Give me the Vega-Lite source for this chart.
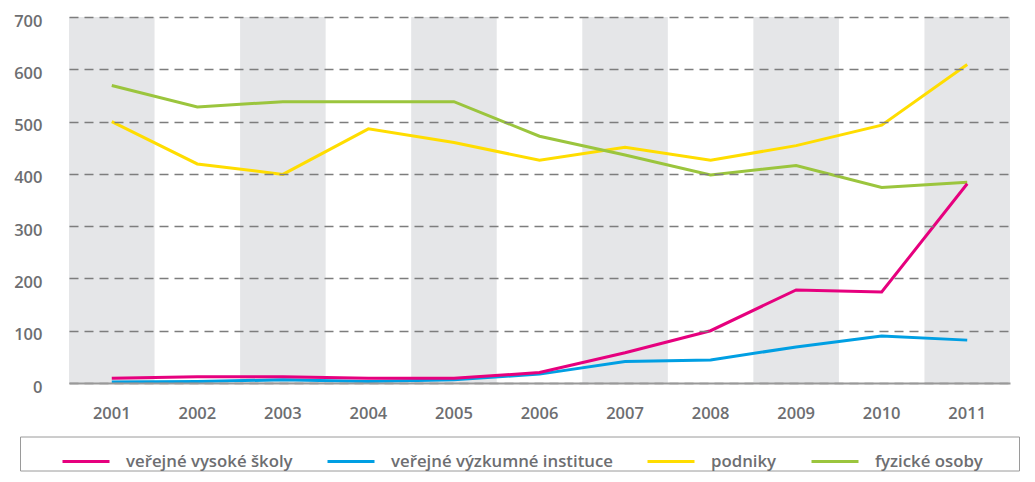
{
  "$schema": "https://vega.github.io/schema/vega-lite/v6.json",
  "autosize": {"type": "none"},
  "width": 941,
  "height": 366,
  "padding": {"left": 69, "top": 17, "right": 25, "bottom": 99},
  "background": "white",
  "config": {
    "view": {"stroke": null},
    "font": "Open Sans",
    "axis": {"labelFont": "Open Sans", "labelFontWeight": 600, "labelColor": "#6d6e71", "labelFontSize": 16.5, "ticks": false, "title": null},
    "legend": {"labelFont": "Open Sans"}
  },
  "datasets": {
    "bands": [
      {"year": "2001"}, {"year": "2003"}, {"year": "2005"}, {"year": "2007"}, {"year": "2009"}, {"year": "2011"}
    ],
    "series": [
      {"year": "2001", "series": "veřejné výzkumné instituce", "value": 2},
      {"year": "2002", "series": "veřejné výzkumné instituce", "value": 3},
      {"year": "2003", "series": "veřejné výzkumné instituce", "value": 6},
      {"year": "2004", "series": "veřejné výzkumné instituce", "value": 3},
      {"year": "2005", "series": "veřejné výzkumné instituce", "value": 6},
      {"year": "2006", "series": "veřejné výzkumné instituce", "value": 17},
      {"year": "2007", "series": "veřejné výzkumné instituce", "value": 41},
      {"year": "2008", "series": "veřejné výzkumné instituce", "value": 44},
      {"year": "2009", "series": "veřejné výzkumné instituce", "value": 69},
      {"year": "2010", "series": "veřejné výzkumné instituce", "value": 90},
      {"year": "2011", "series": "veřejné výzkumné instituce", "value": 82},
      {"year": "2001", "series": "podniky", "value": 500},
      {"year": "2002", "series": "podniky", "value": 419},
      {"year": "2003", "series": "podniky", "value": 399},
      {"year": "2004", "series": "podniky", "value": 486},
      {"year": "2005", "series": "podniky", "value": 460},
      {"year": "2006", "series": "podniky", "value": 426},
      {"year": "2007", "series": "podniky", "value": 451},
      {"year": "2008", "series": "podniky", "value": 426},
      {"year": "2009", "series": "podniky", "value": 454},
      {"year": "2010", "series": "podniky", "value": 493},
      {"year": "2011", "series": "podniky", "value": 609},
      {"year": "2001", "series": "fyzické osoby", "value": 569},
      {"year": "2002", "series": "fyzické osoby", "value": 528},
      {"year": "2003", "series": "fyzické osoby", "value": 538},
      {"year": "2004", "series": "fyzické osoby", "value": 538},
      {"year": "2005", "series": "fyzické osoby", "value": 538},
      {"year": "2006", "series": "fyzické osoby", "value": 472},
      {"year": "2007", "series": "fyzické osoby", "value": 436},
      {"year": "2008", "series": "fyzické osoby", "value": 398},
      {"year": "2009", "series": "fyzické osoby", "value": 416},
      {"year": "2010", "series": "fyzické osoby", "value": 374},
      {"year": "2011", "series": "fyzické osoby", "value": 384},
      {"year": "2001", "series": "veřejné vysoké školy", "value": 9},
      {"year": "2002", "series": "veřejné vysoké školy", "value": 12},
      {"year": "2003", "series": "veřejné vysoké školy", "value": 12},
      {"year": "2004", "series": "veřejné vysoké školy", "value": 9},
      {"year": "2005", "series": "veřejné vysoké školy", "value": 9},
      {"year": "2006", "series": "veřejné vysoké školy", "value": 20},
      {"year": "2007", "series": "veřejné vysoké školy", "value": 58},
      {"year": "2008", "series": "veřejné vysoké školy", "value": 100},
      {"year": "2009", "series": "veřejné vysoké školy", "value": 178},
      {"year": "2010", "series": "veřejné vysoké školy", "value": 174},
      {"year": "2011", "series": "veřejné vysoké školy", "value": 381}
    ]
  },
  "layer": [
    {
      "data": {"name": "bands"},
      "mark": {"type": "rect", "color": "#e5e6e8"},
      "encoding": {
        "x": {"field": "year", "type": "ordinal", "scale": {"type": "band", "domain": ["2001","2002","2003","2004","2005","2006","2007","2008","2009","2010","2011"], "paddingInner": 0, "paddingOuter": 0},
              "axis": {"labelAngle": 0, "labelPadding": 22, "domain": true, "domainColor": "#999999", "domainWidth": 2, "grid": false, "zindex": 1}}
      }
    },
    {
      "data": {"name": "series"},
      "mark": {"type": "line", "strokeWidth": 3},
      "encoding": {
        "x": {"field": "year", "type": "ordinal"},
        "y": {"field": "value", "type": "quantitative", "scale": {"domain": [0, 700], "nice": false},
              "axis": {"values": [0,100,200,300,400,500,600,700], "domain": false, "grid": true, "gridColor": "#7d7d7d", "gridWidth": 1.5, "gridDash": [9, 6], "labelPadding": 27, "labelOffset": 4, "zindex": 1}},
        "color": {
          "field": "series", "type": "nominal",
          "scale": {"domain": ["veřejné vysoké školy", "veřejné výzkumné instituce", "podniky", "fyzické osoby"], "range": ["#e6007e", "#009fe3", "#ffdd00", "#9bc53d"]},
          "legend": {
            "title": " ",
            "titleOrient": "left",
            "titlePadding": 41,
            "orient": "none",
            "legendX": -49,
            "legendY": 419.5,
            "direction": "horizontal",
            "columns": 4,
            "columnPadding": 28,
            "padding": 0,
            "strokeColor": "#9a9a9a",
            "symbolType": "stroke",
            "symbolSize": 2209,
            "symbolStrokeWidth": 3,
            "labelOffset": 15,
            "labelFontSize": 16.8,
            "labelFontWeight": 600,
            "labelColor": "#6d6e71",
            "labelLimit": 400,
            "labelExpr": "datum.label == 'fyzické osoby' ? datum.label + '\u2800\u2800\u2800' : datum.label"
          }
        }
      }
    }
  ]
}
